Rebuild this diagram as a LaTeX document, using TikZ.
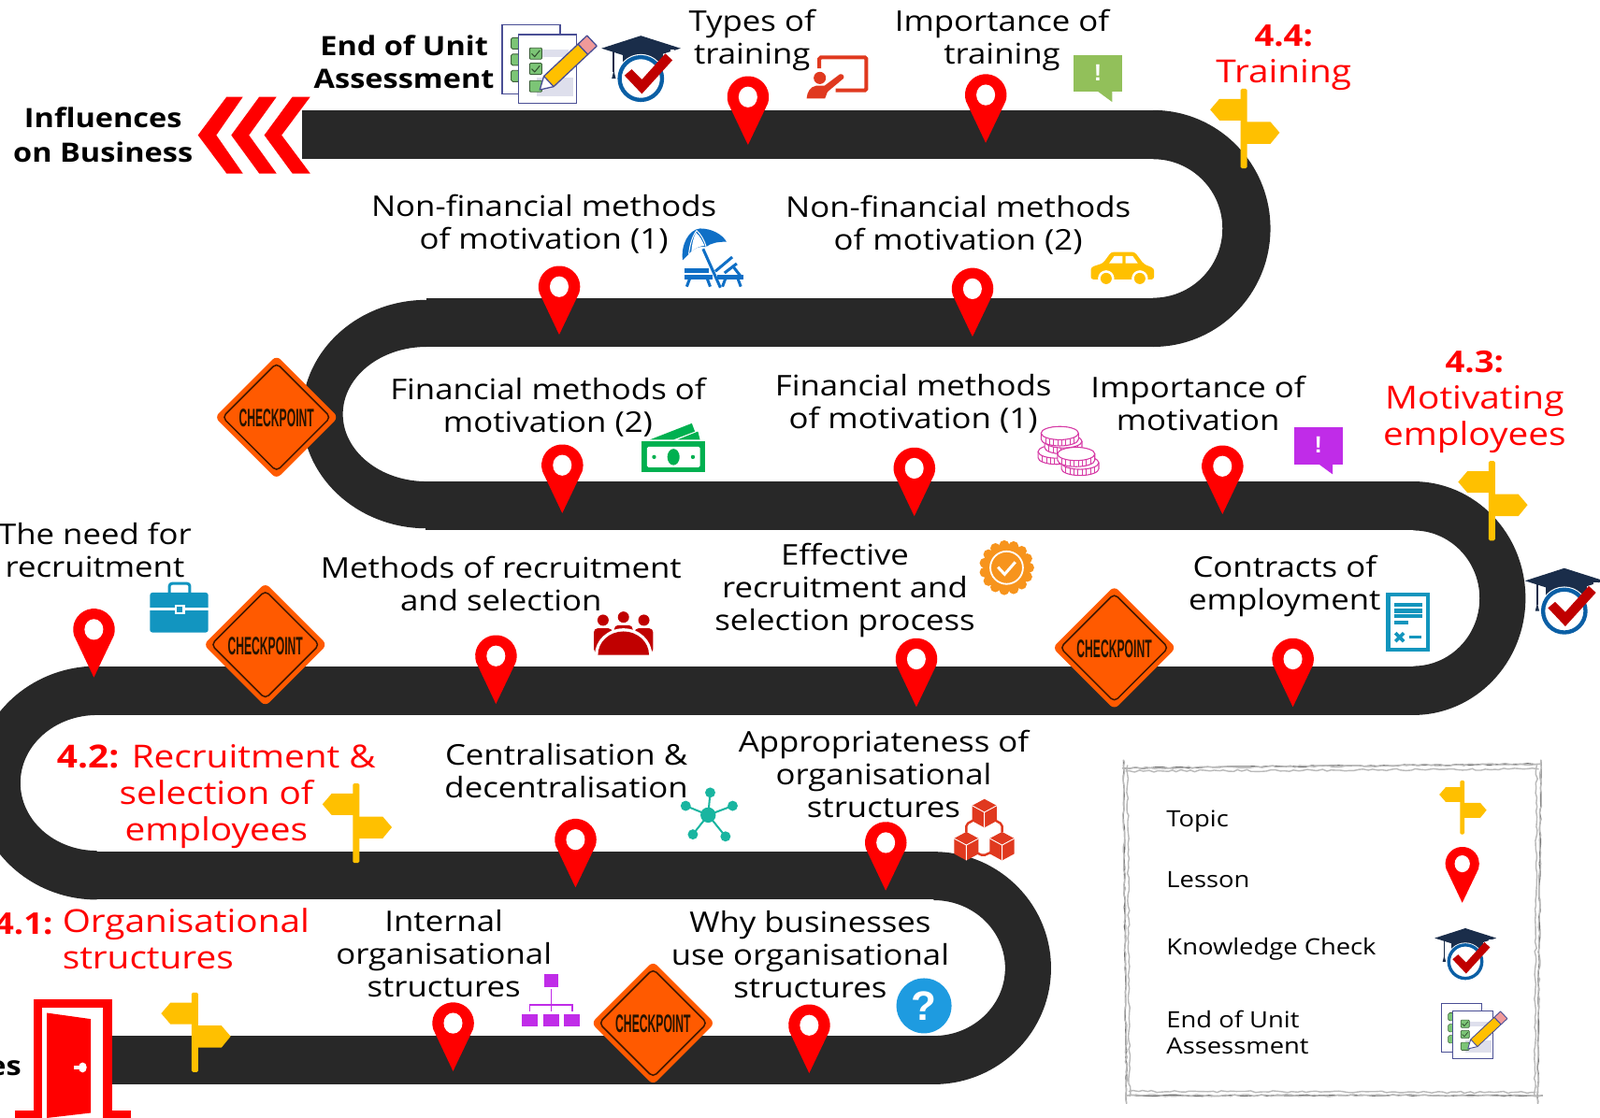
\documentclass[tikz,border=0pt]{standalone}
\usepackage{fontspec}
\usepackage{graphicx}
\setmainfont{Open Sans}[FakeStretch=1.14]
\newfontfamily\signfont{Liberation Sans}
\usetikzlibrary{decorations.pathmorphing}
\definecolor{roadc}{HTML}{282828}
\definecolor{pinred}{HTML}{FF0000}
\definecolor{signy}{HTML}{FFC000}
\definecolor{cporange}{HTML}{FF5A00}
\definecolor{capnavy}{HTML}{1A2D4A}
\definecolor{ringblue}{HTML}{0B5FA5}
\definecolor{chkred}{HTML}{C00000}
\definecolor{pagepurple}{HTML}{4A4F95}
\definecolor{tabgreen}{HTML}{7CC576}
\definecolor{purp}{HTML}{C02CE8}
\definecolor{bubgreen}{HTML}{92C05A}
\definecolor{pred}{HTML}{E0391F}
\definecolor{umbl}{HTML}{0F6FC6}
\definecolor{mgreen}{HTML}{00B050}
\definecolor{coinp}{HTML}{D63AA5}
\definecolor{briefb}{HTML}{1295C0}
\definecolor{badgeo}{HTML}{F7941D}
\definecolor{contb}{HTML}{1295BD}
\definecolor{teal2}{HTML}{19B5A0}
\definecolor{cubered}{HTML}{E0391F}
\definecolor{qblue}{HTML}{1E9BE0}
\definecolor{pencilpink}{HTML}{F09A9A}
\tikzset{
  road/.style={fill=roadc},
  txt/.style={font=\fontsize{30.5}{35}\selectfont,align=center,inner sep=0pt,text=black},
  redtxt/.style={font=\fontsize{34}{39}\selectfont,align=center,inner sep=0pt,text=red},
  boldtxt/.style={font=\fontsize{28.5}{35}\selectfont\bfseries,align=center,inner sep=0pt,text=black},
  legtxt/.style={font=\fontsize{24}{28}\selectfont,align=left,anchor=west,inner sep=0pt,text=black},
  cptxt/.style={font=\signfont\fontsize{27}{27}\selectfont\bfseries,inner sep=0pt,text=black!85!orange},
  pencil1/.style={draw=gray!85!black,line width=1.1pt,decorate,decoration={random steps,segment length=7pt,amplitude=.8pt}},
  pencil2/.style={draw=gray!55,line width=1.4pt,decorate,decoration={random steps,segment length=5pt,amplitude=1.1pt}},
}
\newcommand{\bendR}[6]{\begin{scope}[shift={(#1,#2)}]
  \fill[road] (0,-#4) arc[start angle=-90,end angle=90,x radius=#3,y radius=#4] -- (0,#6) arc[start angle=90,end angle=-90,x radius=#5,y radius=#6] -- cycle;
\end{scope}}
\newcommand{\bendL}[6]{\begin{scope}[shift={(#1,#2)}]
  \fill[road] (0,#4) arc[start angle=90,end angle=270,x radius=#3,y radius=#4] -- (0,-#6) arc[start angle=270,end angle=90,x radius=#5,y radius=#6] -- cycle;
\end{scope}}
% pin: tip at origin
\newcommand{\mypin}[3]{\begin{scope}[shift={(#1,#2)},scale=#3]
  \fill[pinred] (-1,-2) -- (-19,-40) arc[start angle=162.5,end angle=377.5,radius=20] -- (1,-2) -- (0,0) -- cycle;
  \fill[white] (0,-46) ellipse[x radius=9,y radius=10];
\end{scope}}
% signpost: top of pole at origin
\newcommand{\mysign}[3]{\begin{scope}[shift={(#1,#2)},scale=#3]
  \fill[signy] (-33,20.5) -- (-24,10) -- (0,10) -- (0,31) -- (-24,31) -- cycle;
  \fill[signy] (35,43) -- (26,32.5) -- (0,32.5) -- (0,54) -- (26,54) -- cycle;
  \fill[signy,rounded corners=1.5] (-3.2,0) rectangle (3.2,78);
\end{scope}}
% graduation cap: top of board at origin
\newcommand{\mycap}[3]{\begin{scope}[shift={(#1,#2)},scale=#3]
  \fill[capnavy] (-18,16) -- (22,16) -- (22,38) -- (-18,38) -- cycle;
  \fill[capnavy] (0,0) -- (39,12.4) -- (0,24.6) -- (-38.5,12.4) -- cycle;
  \fill[capnavy] (-27.5,15) rectangle (-25.5,36);
  \fill[capnavy] (-26.5,34) -- (-24.5,42) -- (-28.5,42) -- cycle;
  \fill[white] (0,42) ellipse[x radius=23.8,y radius=24];
  \fill[ringblue,even odd rule] (0,42) ellipse[x radius=22.8,y radius=23] (0,42) ellipse[x radius=18.8,y radius=19];
  \fill[white] (29,14) rectangle (33,20);
  \fill[chkred] (-16,39) -- (-9,33) -- (1,43) -- (24,17.5) -- (31,24) -- (1,57) -- cycle;
\end{scope}}
% assessment icon: top-left at origin
\newcommand{\myassess}[3]{\begin{scope}[shift={(#1,#2)},scale=#3]
  \pgfmathsetmacro{\lw}{1.3*#3}
  \draw[pagepurple,line width=\lw pt,fill=white] (0,0) rectangle (57,68);
  \foreach \yy in {13,29,45}{
    \draw[black!50!tabgreen,line width=.7*\lw pt,fill=tabgreen,rounded corners=1.5] (9,\yy) rectangle (17,\yy+11);}
  \draw[pagepurple,line width=\lw pt,fill=white] (16,10) rectangle (73,77.5);
  \fill[pagepurple!18] (30,25) rectangle (65,32);
  \fill[pagepurple!18] (34,52) rectangle (70,70);
  \foreach \yy in {23,38}{
    \draw[black!50!tabgreen,line width=.7*\lw pt,fill=tabgreen,rounded corners=1] (27,\yy) rectangle (39,\yy+11);
    \draw[black!60!tabgreen,line width=.8*\lw pt] (29,\yy+5.5) -- (32,\yy+8.5) -- (37,\yy+2.5);}
  \draw[black!50!tabgreen,line width=.7*\lw pt,fill=tabgreen,rounded corners=1] (27,55) rectangle (39,66);
  \fill[white] (37,64) -- (41,50.7) -- (50.6,60.9) -- cycle;
  \draw[pagepurple,line width=\lw pt,fill=signy,line join=round] (41,50.7) -- (74.5,19.2) -- (84.1,29.4) -- (50.6,60.9) -- cycle;
  \draw[pagepurple,line width=\lw pt,fill=pencilpink,line join=round] (74.5,19.2) -- (83.3,10.9) -- (92.9,21.1) -- (84.1,29.4) -- cycle;
  \draw[pagepurple,line width=\lw pt,line join=round] (41,50.7) -- (37,64) -- (50.6,60.9);
\end{scope}}
\newcommand{\mybubble}[3]{\begin{scope}[shift={(#1,#2)}]
  \fill[#3] (0,0) rectangle (48,36);
  \fill[#3] (23,35) -- (38,35) -- (38,46) -- cycle;
  \node[font=\signfont\fontsize{25}{25}\selectfont\bfseries,text=white,inner sep=0pt] at (24,17.5) {!};
\end{scope}}
\newcommand{\mycheckpoint}[3]{\begin{scope}[shift={(#1,#2)}]
  \fill[cporange,rounded corners=6] (-60.5,0) -- (0,-60.5) -- (60.5,0) -- (0,60.5) -- cycle;
  \draw[black!75!cporange,line width=1.5pt,rounded corners=5] (-53,0) -- (0,-53) -- (53,0) -- (0,53) -- cycle;
  \node[cptxt] (#3) at (0,1) {\scalebox{.45}[1]{CHECKPOINT}};
\end{scope}}
\newcommand{\mycoin}[2]{\begin{scope}[shift={(#1,#2)}]
  \draw[coinp,line width=1.1pt,fill=white] (-18.3,0) -- (-18.3,6) arc[start angle=180,end angle=0,x radius=18.3,y radius=6.5] -- (18.3,0);
  \foreach \cx in {-14,-10,-6,-2,2,6,10,14}{
    \pgfmathsetmacro{\ce}{6.5*sqrt(1-(\cx/18.3)^2)}
    \draw[coinp,line width=.8pt] (\cx,\ce) -- (\cx,\ce+6);}
  \draw[coinp,line width=1.1pt,fill=white] (0,0) ellipse[x radius=18.3,y radius=6.5];
\end{scope}}
\begin{document}
\begin{tikzpicture}[x=1.0912pt,y=-1.0912pt]
\useasboundingbox (0,0) rectangle (1568,1096);
\fill[white] (0,0) rectangle (1568,1096);
% ---- road ----
\fill[road] (296,108) rectangle (1131,156);
\bendR{1130}{224}{115}{116}{68}{68}
\fill[road] (418,292) rectangle (1131,340);
\bendL{418}{406}{122}{112}{82}{66}
\fill[road] (417,472) rectangle (1386,520);
\bendR{1385}{586.5}{110}{114.5}{65}{66.5}
\fill[road] (94,653) rectangle (1386,701);
\bendL{95}{767.5}{120}{114.5}{75}{66.5}
\fill[road] (94,835) rectangle (916,882);
\bendR{915}{949}{115}{114}{70}{66.5}
\fill[road] (108,1015) rectangle (916,1063);
% ---- chevrons ----
\fill[red] (194,132.5) -- (222,95) -- (238,95) -- (212,132.5) -- (238,170) -- (222,170) -- cycle;
\fill[red] (226.6,132.5) -- (254,95) -- (271,95) -- (244,132.5) -- (271,170) -- (254,170) -- cycle;
\fill[red] (259,132.5) -- (286.5,95) -- (304,95) -- (276,132.5) -- (304,170) -- (286.5,170) -- cycle;
% ---- door ----
\fill[red] (33,980) rectangle (110,1096);
\fill[white] (41,988) rectangle (101,1096);
\fill[red] (15,1089) rectangle (33,1096);
\fill[red] (110,1089) rectangle (128,1096);
\fill[red] (46,993) -- (89,999) -- (89,1091) -- (46,1096) -- cycle;
\fill[white] (72,1044.5) rectangle (80,1048.5);
\fill[white] (81,1046.5) ellipse[x radius=4,y radius=5];
% ---- icons ----
\myassess{492}{24}{1}
\mycap{628}{35}{1}
\mycap{1533}{557}{1}
% presentation
\draw[pred,line width=4pt,rounded corners=1.5] (803,67) -- (803,56.3) -- (849,56.3) -- (849,88.5) -- (819,88.5);
\fill[pred] (803.4,76.4) circle[radius=6];
\fill[pred] (790.5,96.5) .. controls (791,90) and (794,85) .. (800,84) -- (808,84) -- (823,72.8) .. controls (826,72) and (828,75) .. (826.5,77) -- (811,90) -- (808.5,96.5) -- cycle;
\mybubble{1052}{54}{bubgreen}
% beach umbrella
\begin{scope}
  \fill[umbl] (669,255) .. controls (667,240) and (675,225) .. (686,224) .. controls (698,224) and (708,230) .. (712,237) .. controls (704,237) and (697,238) .. (692,242) .. controls (686,241) and (680,243) .. (675,249) .. controls (673,251) and (671,253) .. (669,255) -- cycle;
  \draw[white,line width=1pt] (682.7,226) .. controls (678,232) and (676,241) .. (675,249);
  \draw[white,line width=1pt] (682.7,226) .. controls (687,230) and (690,235) .. (692,242);
  \fill[white] (682,228) .. controls (679,234) and (678,241) .. (677.5,246.5) .. controls (682,243) and (686,241) .. (690.5,241) .. controls (688,236) and (686,231) .. (682,228) -- cycle;
  \draw[umbl,line width=3pt] (689,244) -- (706,282);
  \fill[umbl] (670.6,263) rectangle (695,267.5);
  \fill[umbl] (670.6,269) rectangle (698,274);
  \draw[umbl,line width=3pt] (676,273) -- (673,281) (693,273) -- (696,281);
  \fill[umbl] (702.7,269) rectangle (728.6,274);
  \draw[umbl,line width=3pt] (701,266) -- (717.6,252);
  \draw[umbl,line width=3pt] (710,267.6) -- (722,258.4);
  \draw[umbl,line width=3pt] (719,262) -- (726,271);
  \draw[umbl,line width=3pt] (711,273) -- (708,281) (723,273) -- (726,281);
\end{scope}
% car
\fill[signy,rounded corners=3] (1069,274) -- (1069,262) -- (1081,258) -- (1089,247) -- (1112,247) -- (1121,259) -- (1131,263) -- (1131,274) -- cycle;
\fill[white] (1092,251) -- (1100,251) -- (1100,258) -- (1087,258) -- cycle;
\fill[white] (1103,251) -- (1110,251) -- (1115,258) -- (1103,258) -- cycle;
\fill[white] (1084,273) circle[radius=8];
\fill[white] (1117,273) circle[radius=8];
\fill[signy] (1084,273) circle[radius=5.5];
\fill[signy] (1117,273) circle[radius=5.5];
% money
\fill[mgreen] (629,433) rectangle (691,463);
\fill[white,rounded corners=1.5] (634,438) rectangle (686,458);
\fill[mgreen] (660,448) ellipse[x radius=6,y radius=8];
\fill[mgreen] (641,448) circle[radius=2];
\fill[mgreen] (679,448) circle[radius=2];
\fill[mgreen] (637,431) -- (678,415) -- (681,423) -- (660,431) -- cycle;
\fill[mgreen] (664,431) -- (684,423) -- (686,431) -- cycle;
% coins
\mycoin{1035.6}{442.7}
\mycoin{1042}{432.6}
\mycoin{1038.6}{424.6}
\mycoin{1058.5}{453.6}
\mycoin{1054.6}{445}
\mybubble{1268}{419}{purp}
% briefcase
\draw[briefb,line width=3pt,rounded corners=3] (166,583) -- (166,572) -- (186,572) -- (186,583);
\fill[briefb,rounded corners=2.5] (147,581) rectangle (204,620);
\fill[white] (147,596) rectangle (204,598.5);
\fill[white] (171,593) rectangle (181,602);
\fill[briefb] (173,595) rectangle (179,600);
% meeting
\fill[chkred] (591,608) circle[radius=5.5];
\fill[chkred] (611,605) circle[radius=5.5];
\fill[chkred] (631,608) circle[radius=5.5];
\fill[chkred,rounded corners=4] (582,616) rectangle (600,640);
\fill[chkred,rounded corners=4] (602,613) rectangle (620,632);
\fill[chkred,rounded corners=4] (622,616) rectangle (640,640);
\fill[white] (583,642) arc[start angle=180,end angle=360,x radius=28,y radius=26] -- cycle;
\fill[chkred] (586,642) arc[start angle=180,end angle=360,x radius=25,y radius=23] -- cycle;
% badge
\fill[badgeo] (986.5,556.5) circle[radius=23];
\foreach \aa in {0,24,...,336}{
  \fill[badgeo] (986.5,556.5) ++(\aa:22) circle[radius=5];}
\draw[white,line width=1.8pt] (986.5,556.5) circle[radius=16];
\draw[white,line width=3pt] (978,556) -- (984.5,563) -- (995,551);
% contract
\draw[contb,line width=4.3pt] (1360.5,583) rectangle (1399.5,637);
\fill[white] (1362.5,585) rectangle (1397.5,635);
\fill[contb] (1366.4,591) rectangle (1394,595);
\fill[contb] (1366.4,597) rectangle (1394,601);
\fill[contb] (1366.4,602) rectangle (1394,606);
\fill[contb] (1366.4,608.5) rectangle (1380,612);
\draw[contb,line width=3.6pt] (1367.5,620.6) -- (1375.7,628.8) (1375.7,620.6) -- (1367.5,628.8);
\draw[contb,line width=3pt] (1380.7,624.7) -- (1393,624.7);
% network
\coordinate (nc) at (694,799);
\foreach \xx/\yy in {696/777,718/790,711/820,679/818,672/790}{
  \draw[teal2,line width=2pt] (nc) -- (\xx,\yy);
  \fill[teal2] (\xx,\yy) circle[radius=5];}
\fill[teal2] (nc) circle[radius=7.5];
% cubes
\draw[cubered,line width=2.4pt,rounded corners=2] (947,815.6) -- (947,808) -- (957.7,802);
\draw[cubered,line width=2.4pt,rounded corners=2] (982,815.6) -- (982,808) -- (971.5,802);
\draw[cubered,line width=2.4pt,rounded corners=2] (953,834) -- (963.5,839) -- (974.5,834);
\foreach \xx/\yy in {964.7/797.3,947/829.5,982/829.5}{
  \begin{scope}[shift={(\xx,\yy)}]
    \fill[cubered] (0,-14) -- (12,-7.5) -- (12,7.5) -- (0,14) -- (-12,7.5) -- (-12,-7.5) -- cycle;
    \draw[white,line width=.9pt] (-12,-7.5) -- (0,-1) -- (12,-7.5) (0,-1) -- (0,14);
  \end{scope}}
% org chart
\fill[purp] (533,955) rectangle (547,968);
\fill[purp] (511,994) rectangle (527,1006);
\fill[purp] (532,994) rectangle (548,1006);
\fill[purp] (553,994) rectangle (568,1006);
\draw[purp,line width=1.5pt] (540,970) -- (540,992) (519,992) -- (519,985) -- (561,985) -- (561,992);
% question
\fill[qblue] (905.5,986) circle[radius=27];
\node[font=\signfont\fontsize{44}{44}\selectfont\bfseries,text=white,inner sep=0pt] (qmark) at (905.5,986) {?};
% ---- pins ----
\foreach \xx/\yy in {733/142,966/140,548/328,953/330,551/503,896/506,1198/504,92/664,486/690,898/693,1267/693,564/870,868/873,444/1050,793/1052}{
  \mypin{\xx}{\yy}{1.02}}
% ---- signs ----
\mysign{1219}{87}{1}
\mysign{1462}{452}{1}
\mysign{349}{768}{1}
\mysign{191}{973}{1}
% ---- checkpoints ----
\mycheckpoint{271}{409}{cp1}
\mycheckpoint{260}{632}{cp2}
\mycheckpoint{1092}{635}{cp3}
\mycheckpoint{640}{1003}{cp4}
% ---- texts ----
\node[boldtxt] (eou) at (396,61) {End of Unit\\Assessment};
\node[boldtxt,font=\fontsize{28.5}{37}\selectfont\bfseries] (inf) at (101,132) {Influences\\on Business};
\node[boldtxt,anchor=east] (es) at (21,1047) {es};
\node[txt] (a1) at (737,39) {Types of\\training};
\node[txt] (a2) at (982,39) {Importance of\\training};
\node[redtxt,font=\fontsize{32}{39}\selectfont\bfseries] (t44a) at (1258,35) {4.4:};
\node[redtxt] (t44b) at (1258,73) {Training};
\node[txt] (a3) at (533,220) {Non-financial methods\\of motivation (1)};
\node[txt] (a4) at (939,221) {Non-financial methods\\of motivation (2)};
\node[txt] (a5) at (537,399) {Financial methods of\\motivation (2)};
\node[txt] (a6) at (895,396) {Financial methods\\of motivation (1)};
\node[txt] (a7) at (1174,395) {Importance of\\motivation};
\node[redtxt,font=\fontsize{32}{39}\selectfont\bfseries] (t43a) at (1445,355) {4.3:};
\node[redtxt] (t43b) at (1445,411) {Motivating\\employees};
\node[txt] (a8) at (93,539) {The need for\\recruitment};
\node[txt] (a9) at (491,572) {Methods of recruitment\\and selection};
\node[txt] (a10) at (828,579) {Effective\\recruitment and\\selection process};
\node[txt] (a11) at (1259,575) {Contracts of\\employment};
\node[redtxt] (t42) at (212,781) {\textbf{4.2:} Recruitment \&\\selection of\\employees};
\node[txt] (a12) at (555,756) {Centralisation \&\\decentralisation};
\node[txt] (a13) at (866,759) {Appropriateness of\\organisational\\structures};
\node[redtxt,font=\fontsize{32}{39}\selectfont\bfseries,anchor=east] (t41a) at (52,906) {4.1:};
\node[redtxt,align=left,anchor=north west] (t41b) at (61,890) {Organisational\\structures};
\node[txt] (a14) at (435,935) {Internal\\organisational\\structures};
\node[txt] (a15) at (794,936) {Why businesses\\use organisational\\structures};
% ---- legend ----
\foreach \p in {pencil1,pencil2}{
  \draw[\p] (1100,753) -- (1510,749);
  \draw[\p] (1510,745) -- (1507,1082);
  \draw[\p] (1512,1074) -- (1103,1074);
  \draw[\p] (1104,1082) -- (1101,745);
}
\draw[pencil2] (1103,756) -- (1508,754);
\draw[pencil2] (1106,1070) -- (1505,1071);
\draw[pencil2] (1105,750) -- (1107,1075);
\draw[pencil2] (1506,750) -- (1504,1075);
\node[legtxt] (l1) at (1143,805) {Topic};
\node[legtxt] (l2) at (1143,862) {Lesson};
\node[legtxt] (l3) at (1143,930) {Knowledge Check};
\node[legtxt] (l4) at (1143,1012) {End of Unit\\Assessment};
\mysign{1433}{765}{.68}
\mypin{1433}{885}{.83}
\mycap{1436}{910}{.78}
\myassess{1413}{984}{.69}
\end{tikzpicture}
\end{document}
